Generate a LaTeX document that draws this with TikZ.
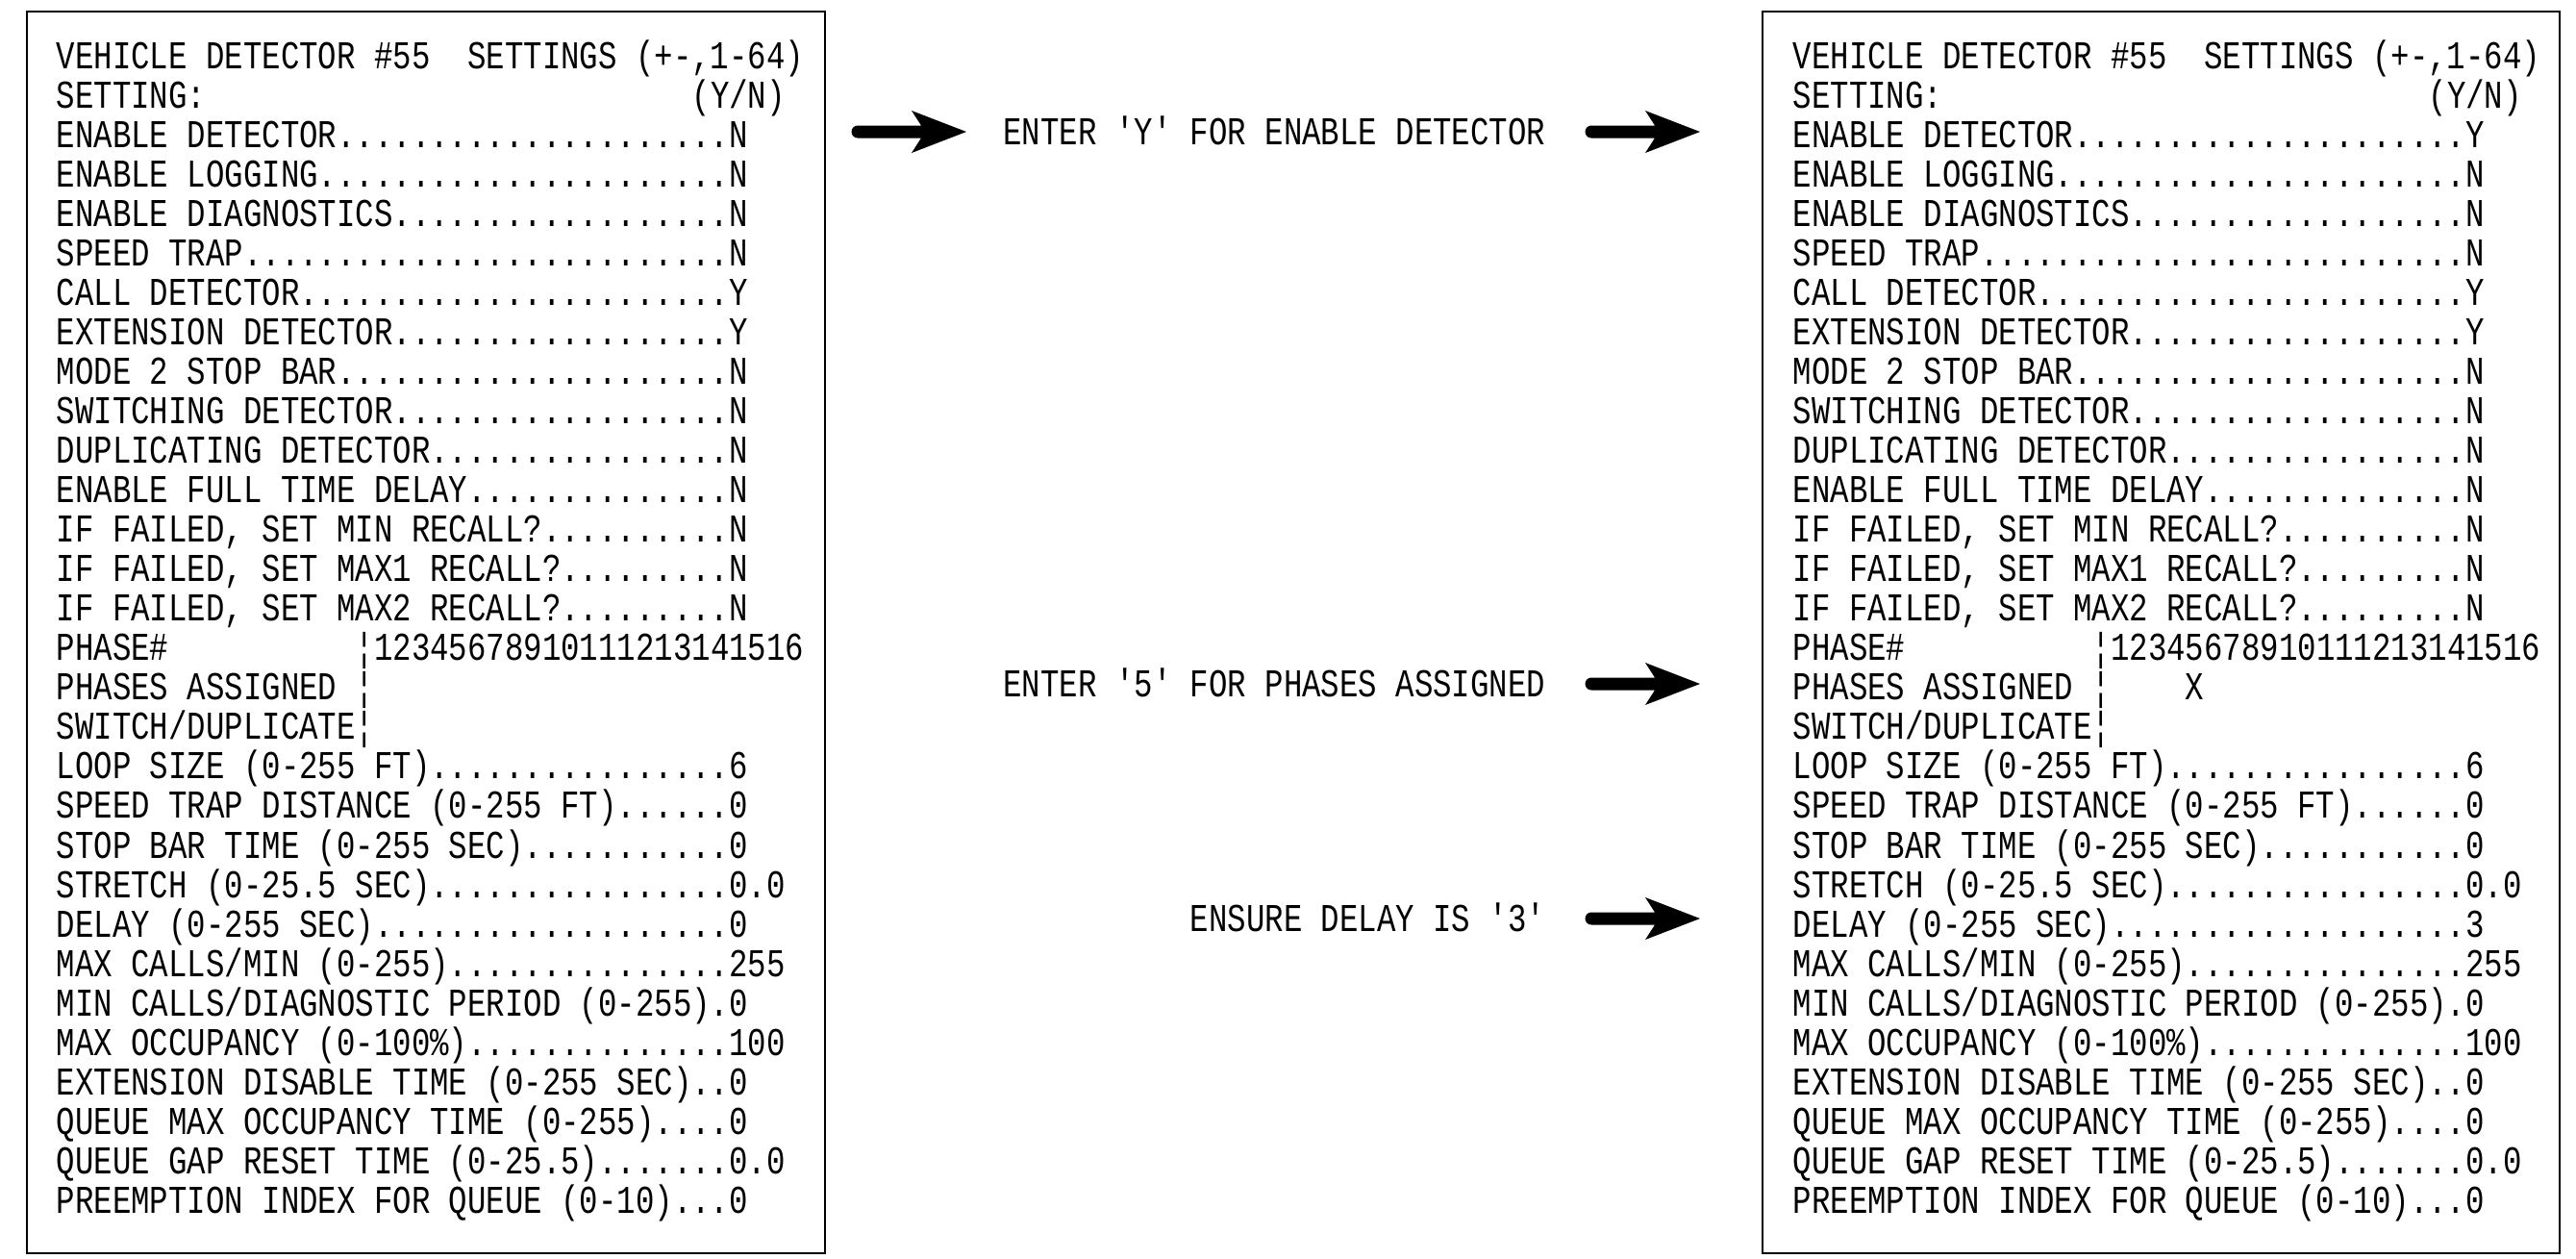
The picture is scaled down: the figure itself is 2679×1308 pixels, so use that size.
\documentclass[tikz,border=0pt]{standalone}
\usepackage{fontspec}
\newfontfamily\cadfont[FakeStretch=0.79]{Liberation Mono}
\ExplSyntaxOn
\cs_new:Npn \fillpts #1 { \prg_replicate:nn {#1} {.} }
\cs_new:Npn \fillsp #1 { \prg_replicate:nn {#1} {\phantom{0}} }
\ExplSyntaxOff
\newcommand\rowat[4]{\node[rowtxt] (#1) at (#2,{71+(#3-1)*41.05}) {#4};}
\tikzset{
  cadtext/.style={inner sep=0pt, font=\cadfont\fontsize{10.25pt}{12pt}\selectfont},
  rowtxt/.style={cadtext, anchor=base west},
  midtxt/.style={cadtext, anchor=base east},
  panel/.style={draw=black, line width=0.6pt},
  blockarrow/.pic={
    \fill[black] (0,-6.5) -- (66,-6.5) -- (56,-22) -- (113,0) -- (56,22) -- (66,6.5) -- (0,6.5) arc (90:270:6.5) -- cycle;
  }
}
\begin{document}
\begin{tikzpicture}[x=0.25pt,y=-0.25pt]
\useasboundingbox (0,0) rectangle (2679,1308);
% panels
\draw[panel] (28,12) rectangle (858,1303);
\draw[panel] (1833,12) rectangle (2662,1303);
% left panel rows
\def\lx{58}
\rowat{L1}{\lx}{1}{VEHICLE DETECTOR \#55\fillsp{2}SETTINGS (+-,1-64)}
\rowat{L2}{\lx}{2}{SETTING:\fillsp{26}(Y/N)}
\rowat{L3}{\lx}{3}{ENABLE DETECTOR\fillpts{21}N}
\rowat{L4}{\lx}{4}{ENABLE LOGGING\fillpts{22}N}
\rowat{L5}{\lx}{5}{ENABLE DIAGNOSTICS\fillpts{18}N}
\rowat{L6}{\lx}{6}{SPEED TRAP\fillpts{26}N}
\rowat{L7}{\lx}{7}{CALL DETECTOR\fillpts{23}Y}
\rowat{L8}{\lx}{8}{EXTENSION DETECTOR\fillpts{18}Y}
\rowat{L9}{\lx}{9}{MODE 2 STOP BAR\fillpts{21}N}
\rowat{L10}{\lx}{10}{SWITCHING DETECTOR\fillpts{18}N}
\rowat{L11}{\lx}{11}{DUPLICATING DETECTOR\fillpts{16}N}
\rowat{L12}{\lx}{12}{ENABLE FULL TIME DELAY\fillpts{14}N}
\rowat{L13}{\lx}{13}{IF FAILED, SET MIN RECALL?\fillpts{10}N}
\rowat{L14}{\lx}{14}{IF FAILED, SET MAX1 RECALL?\fillpts{9}N}
\rowat{L15}{\lx}{15}{IF FAILED, SET MAX2 RECALL?\fillpts{9}N}
\rowat{L16}{\lx}{16}{PHASE\#\fillsp{10}¦12345678910111213141516}
\rowat{L17}{\lx}{17}{PHASES ASSIGNED ¦}
\rowat{L18}{\lx}{18}{SWITCH/DUPLICATE¦}
\rowat{L19}{\lx}{19}{LOOP SIZE (0-255 FT)\fillpts{16}6}
\rowat{L20}{\lx}{20}{SPEED TRAP DISTANCE (0-255 FT)\fillpts{6}0}
\rowat{L21}{\lx}{21}{STOP BAR TIME (0-255 SEC)\fillpts{11}0}
\rowat{L22}{\lx}{22}{STRETCH (0-25.5 SEC)\fillpts{16}0.0}
\rowat{L23}{\lx}{23}{DELAY (0-255 SEC)\fillpts{19}0}
\rowat{L24}{\lx}{24}{MAX CALLS/MIN (0-255)\fillpts{15}255}
\rowat{L25}{\lx}{25}{MIN CALLS/DIAGNOSTIC PERIOD (0-255).0}
\rowat{L26}{\lx}{26}{MAX OCCUPANCY (0-100\%)\fillpts{14}100}
\rowat{L27}{\lx}{27}{EXTENSION DISABLE TIME (0-255 SEC)..0}
\rowat{L28}{\lx}{28}{QUEUE MAX OCCUPANCY TIME (0-255)....0}
\rowat{L29}{\lx}{29}{QUEUE GAP RESET TIME (0-25.5).......0.0}
\rowat{L30}{\lx}{30}{PREEMPTION INDEX FOR QUEUE (0-10)...0}
% right panel rows
\def\rx{1864}
\rowat{R1}{\rx}{1}{VEHICLE DETECTOR \#55\fillsp{2}SETTINGS (+-,1-64)}
\rowat{R2}{\rx}{2}{SETTING:\fillsp{26}(Y/N)}
\rowat{R3}{\rx}{3}{ENABLE DETECTOR\fillpts{21}Y}
\rowat{R4}{\rx}{4}{ENABLE LOGGING\fillpts{22}N}
\rowat{R5}{\rx}{5}{ENABLE DIAGNOSTICS\fillpts{18}N}
\rowat{R6}{\rx}{6}{SPEED TRAP\fillpts{26}N}
\rowat{R7}{\rx}{7}{CALL DETECTOR\fillpts{23}Y}
\rowat{R8}{\rx}{8}{EXTENSION DETECTOR\fillpts{18}Y}
\rowat{R9}{\rx}{9}{MODE 2 STOP BAR\fillpts{21}N}
\rowat{R10}{\rx}{10}{SWITCHING DETECTOR\fillpts{18}N}
\rowat{R11}{\rx}{11}{DUPLICATING DETECTOR\fillpts{16}N}
\rowat{R12}{\rx}{12}{ENABLE FULL TIME DELAY\fillpts{14}N}
\rowat{R13}{\rx}{13}{IF FAILED, SET MIN RECALL?\fillpts{10}N}
\rowat{R14}{\rx}{14}{IF FAILED, SET MAX1 RECALL?\fillpts{9}N}
\rowat{R15}{\rx}{15}{IF FAILED, SET MAX2 RECALL?\fillpts{9}N}
\rowat{R16}{\rx}{16}{PHASE\#\fillsp{10}¦12345678910111213141516}
\rowat{R17}{\rx}{17}{PHASES ASSIGNED ¦\fillsp{4}X}
\rowat{R18}{\rx}{18}{SWITCH/DUPLICATE¦}
\rowat{R19}{\rx}{19}{LOOP SIZE (0-255 FT)\fillpts{16}6}
\rowat{R20}{\rx}{20}{SPEED TRAP DISTANCE (0-255 FT)\fillpts{6}0}
\rowat{R21}{\rx}{21}{STOP BAR TIME (0-255 SEC)\fillpts{11}0}
\rowat{R22}{\rx}{22}{STRETCH (0-25.5 SEC)\fillpts{16}0.0}
\rowat{R23}{\rx}{23}{DELAY (0-255 SEC)\fillpts{19}3}
\rowat{R24}{\rx}{24}{MAX CALLS/MIN (0-255)\fillpts{15}255}
\rowat{R25}{\rx}{25}{MIN CALLS/DIAGNOSTIC PERIOD (0-255).0}
\rowat{R26}{\rx}{26}{MAX OCCUPANCY (0-100\%)\fillpts{14}100}
\rowat{R27}{\rx}{27}{EXTENSION DISABLE TIME (0-255 SEC)..0}
\rowat{R28}{\rx}{28}{QUEUE MAX OCCUPANCY TIME (0-255)....0}
\rowat{R29}{\rx}{29}{QUEUE GAP RESET TIME (0-25.5).......0.0}
\rowat{R30}{\rx}{30}{PREEMPTION INDEX FOR QUEUE (0-10)...0}
% middle instructions
\node[midtxt] (m1) at (1608,150) {ENTER 'Y' FOR ENABLE DETECTOR};
\node[midtxt] (m2) at (1608,724) {ENTER '5' FOR PHASES ASSIGNED};
\node[midtxt] (m3) at (1608,968) {ENSURE DELAY IS '3'};
% block arrows
\coordinate (a1) at (892,137);
\coordinate (a2) at (1655,137);
\coordinate (a3) at (1655,711);
\coordinate (a4) at (1655,955);
\pic at (a1) {blockarrow};
\pic at (a2) {blockarrow};
\pic at (a3) {blockarrow};
\pic at (a4) {blockarrow};
\end{tikzpicture}
\end{document}
